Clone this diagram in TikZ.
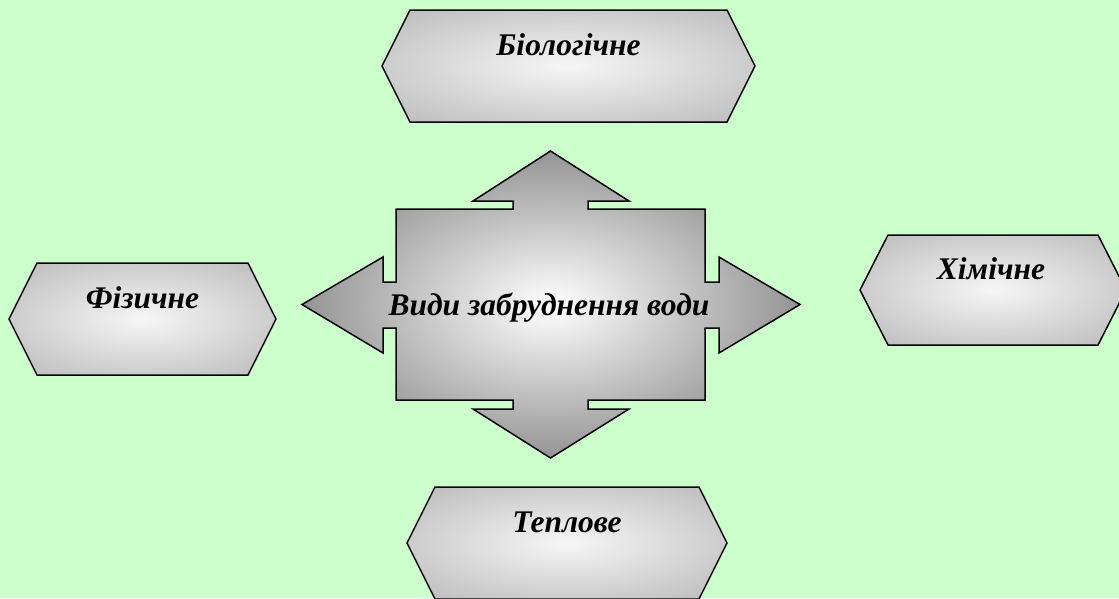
\documentclass[tikz,border=0pt]{standalone}
\usepackage{fontspec}
\setmainfont{Liberation Serif}
\definecolor{bggreen}{RGB}{204,255,204}
\definecolor{hexinner}{RGB}{246,246,246}
\definecolor{hexouter}{RGB}{192,192,192}
\pgfdeclareradialshading{softradial}{\pgfpoint{0bp}{0bp}}{color(0bp)=(hexinner); color(32bp)=(hexouter); color(50bp)=(hexouter)}
\tikzset{
	hexbox/.style={draw=black, line width=1.5pt, shading=softradial},
	crossbox/.style={draw=black, line width=1.5pt, inner color=white, outer color=black!42, shading=radial},
	kindtext/.style={font=\fontsize{31.5}{34}\selectfont\bfseries\itshape, anchor=base, inner sep=0pt}
}

\begin{document}
\begin{tikzpicture}[x=1pt, y=-1pt]
			%background
			\fill[bggreen] (0,0) rectangle (1119,598);
			\useasboundingbox (0,0) rectangle (1119,598);
			%central cross arrow
			\draw[crossbox] (550.5,151) -- (629,201) -- (588,201) -- (588,209) -- (705,209) -- (705,282) -- (719,282) -- (719,257) -- (800,304.5) -- (719,353) -- (719,328) -- (705,328) -- (705,400) -- (588,400) -- (588,409) -- (629,409) -- (550.5,458) -- (473,409) -- (513,409) -- (513,400) -- (396,400) -- (396,328) -- (383,328) -- (383,353) -- (302,304.5) -- (383,257) -- (383,282) -- (396,282) -- (396,209) -- (513,209) -- (513,201) -- (473,201) -- cycle;
			\node[kindtext] (types) at (549,315) {Види забруднення води};
			%top hexagon
			\draw[hexbox] (382,66) -- (410,10) -- (727,10) -- (755,66) -- (727,122) -- (410,122) -- cycle;
			\node[kindtext] (bio) at (568.5,55) {Біологічне};
			%left hexagon
			\draw[hexbox] (9,319) -- (37,263) -- (248,263) -- (276,319) -- (248,375) -- (37,375) -- cycle;
			\node[kindtext] (phys) at (142.5,308) {Фізичне};
			%right hexagon
			\draw[hexbox] (860,290) -- (888,235) -- (1098,235) -- (1126,290) -- (1098,345) -- (888,345) -- cycle;
			\node[kindtext] (chem) at (991,279) {Хімічне};
			%bottom hexagon
			\draw[hexbox] (407,543) -- (435,487) -- (699,487) -- (727,543) -- (699,599) -- (435,599) -- cycle;
			\node[kindtext] (heat) at (567,532) {Теплове};
		\end{tikzpicture}
\end{document}
